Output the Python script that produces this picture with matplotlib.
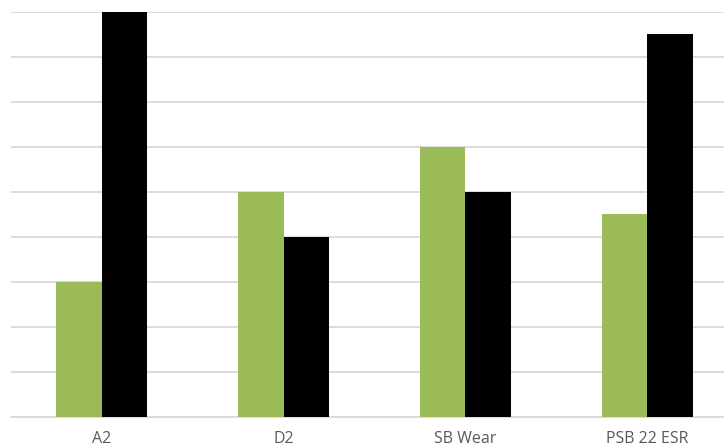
import matplotlib.pyplot as plt
import numpy as np

categories = ["A2", "D2", "SB Wear", "PSB 22 ESR"]
series_green = [3, 5, 6, 4.5]
series_black = [9, 4, 5, 8.5]

W, H = 724, 447
fig = plt.figure(figsize=(W / 100, H / 100), dpi=100)
# axes run a bit past the right edge of the canvas
left, right = 11 / W, 738 / W
bottom, top = (H - 416.5) / H, (H - 11.5) / H
ax = fig.add_axes([left, bottom, right - left, top - bottom])

x = np.arange(len(categories))
bw = 0.25
ax.bar(x - bw / 2, series_green, width=bw, color="#9BBB59", zorder=3)
ax.bar(x + bw / 2, series_black, width=bw, color="#000000", zorder=3)

ax.set_xlim(-0.5, len(categories) - 0.5)
ax.set_ylim(0, 9)
ax.set_yticks(np.arange(0, 10, 1))
ax.yaxis.grid(True, color="#D9D9D9", linewidth=1.3, zorder=0)
ax.tick_params(axis="y", left=False, labelleft=False)
ax.tick_params(axis="x", bottom=False, pad=7)
ax.set_xticks(x)
ax.set_xticklabels(categories, fontsize=11.5, color="#595959", family="Open Sans")

for s in ["top", "right", "left"]:
    ax.spines[s].set_visible(False)
ax.spines["bottom"].set_color("#D9D9D9")
ax.spines["bottom"].set_linewidth(1.3)

fig.savefig("out.png", dpi=100)
